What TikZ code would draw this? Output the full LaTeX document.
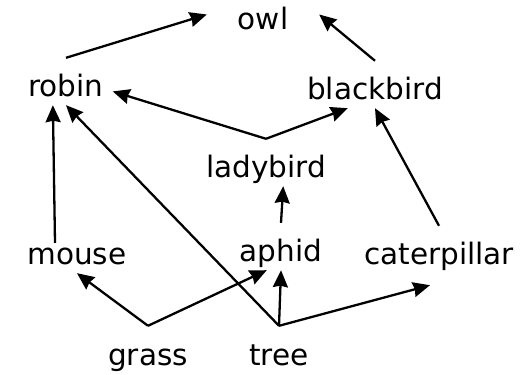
\documentclass[tikz,border=0pt]{standalone}
\usepackage{fontspec}
\setmainfont{DejaVu Sans}
\usetikzlibrary{arrows.meta}
\begin{document}
\begin{tikzpicture}[x=1pt, y=1pt,
    sp/.style={anchor=base, inner sep=0pt, inner xsep=9pt, text height=39pt, text depth=8pt, font=\fontsize{29.5}{35}\selectfont},
    eat/.style={-{Stealth[length=17pt,width=15pt,inset=1.5pt]}, line width=2.3pt}]
    \useasboundingbox (0,0) rectangle (526,374);
    % who eats whom, bottom row first
    \node[sp] (grass) at (148,9) {grass};
    \node[sp] (tree) at (279,9) {tree};
    \node[sp] (mouse) at (77,109) {mouse};
    \node[sp] (aphid) at (281,112) {aphid};
    \node[sp] (caterpillar) at (439,109) {caterpillar};
    \node[sp] (ladybird) at (266,196) {ladybird};
    \node[sp] (robin) at (66,277) {robin};
    \node[sp] (blackbird) at (375,274) {blackbird};
    \node[sp, minimum width=112pt] (owl) at (263,344) {owl};
    \draw[eat] (grass.north) -- (mouse.south);
    \draw[eat] (grass.north) -- (aphid.239);
    \foreach \s in {robin.south, aphid.south}
    \draw[eat] (tree.north) -- (\s);
    \draw[eat] (tree.north) -- ([shift={(-9pt,-12pt)}]caterpillar.south);
    \draw[eat] ([shift={(-22pt,-17pt)}]mouse.north) -- (robin.241);
    \draw[eat] (aphid.north) -- (ladybird.306);
    \draw[eat] (caterpillar.north) -- (blackbird.south);
    \draw[eat] (ladybird.north) -- (robin.348);
    \draw[eat] (ladybird.north) -- (blackbird.221);
    \draw[eat] (robin.north) -- (owl.west);
    \draw[eat] (blackbird.north) -- (owl.east);
\end{tikzpicture}
\end{document}
